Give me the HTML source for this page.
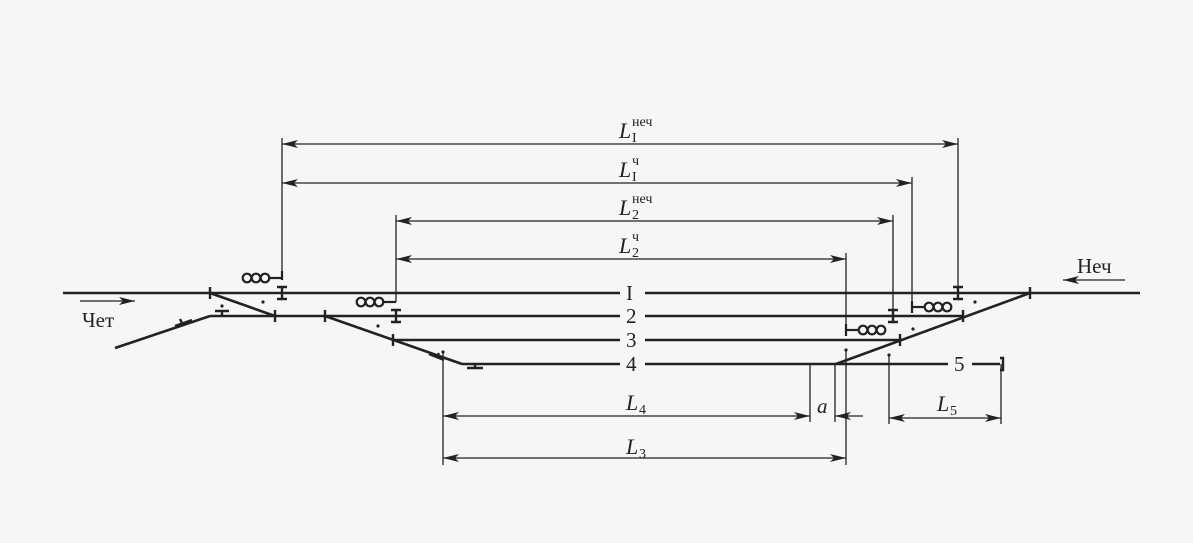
<!DOCTYPE html>
<html><head><meta charset="utf-8"><style>
html,body{margin:0;padding:0;background:#f6f6f6;}
svg{display:block;}
text{font-family:"Liberation Serif",serif;fill:#222;}
</style></head><body>
<svg width="1193" height="543" viewBox="0 0 1193 543" xmlns="http://www.w3.org/2000/svg">
<defs>
<marker id="ar" viewBox="0 0 16 8" refX="16" refY="4" markerWidth="16" markerHeight="8" markerUnits="userSpaceOnUse" orient="auto-start-reverse"><path d="M0,0 L16,4 L0,8 L4,4 Z" fill="#222"/></marker>
</defs>
<g stroke="#222" fill="none">
<g stroke-width="2.6">
<line x1="63" y1="293" x2="620" y2="293"/><line x1="645" y1="293" x2="1140" y2="293"/>
<line x1="210" y1="316" x2="620" y2="316"/><line x1="645" y1="316" x2="963" y2="316"/>
<line x1="393" y1="340" x2="620" y2="340"/><line x1="645" y1="340" x2="900" y2="340"/>
<line x1="462" y1="364" x2="620" y2="364"/><line x1="645" y1="364" x2="948" y2="364"/>
<line x1="972" y1="364" x2="1000" y2="364"/>
<line x1="210" y1="293" x2="275" y2="316"/>
<line x1="115" y1="348" x2="210" y2="316"/>
<line x1="325" y1="316" x2="462" y2="364"/>
<line x1="836" y1="364" x2="1030" y2="293"/>
</g>
<g stroke-width="2.4">
<line x1="210" y1="287" x2="210" y2="299"/>
<line x1="275" y1="310" x2="275" y2="322"/>
<line x1="325" y1="310" x2="325" y2="322"/>
<line x1="393" y1="334" x2="393" y2="346"/>
<line x1="1030" y1="287" x2="1030" y2="299"/>
<line x1="963" y1="310" x2="963" y2="322"/>
<line x1="900" y1="334" x2="900" y2="346"/>
<path d="M1000,358 h3 v12 h-3"/>
<path d="M277,287 h10 M282,287 v12 M277,299 h10"/>
<path d="M391,310 h10 M396,310 v12 M391,322 h10"/>
<path d="M888,310 h10 M893,310 v12 M888,322 h10"/>
<path d="M953,287 h10 M958,287 v12 M953,299 h10"/>
<path d="M215,311 h14 M222,311 v5"/>
<path d="M467,368 h16 M475,364 v4"/>
<path d="M175,326 l17,-6 M182,323 l-2,-4"/>
<path d="M429,354 l15,6 M437,357 l2,-4"/>
</g>
<g stroke-width="2.2">
<line x1="268" y1="278" x2="282" y2="278"/><line x1="282" y1="271" x2="282" y2="280"/>
<circle cx="247" cy="278" r="4.3"/><circle cx="256" cy="278" r="4.3"/><circle cx="265" cy="278" r="4.3"/>
<line x1="382" y1="302" x2="396" y2="302"/>
<circle cx="361" cy="302" r="4.3"/><circle cx="370" cy="302" r="4.3"/><circle cx="379" cy="302" r="4.3"/>
<line x1="912" y1="307" x2="925" y2="307"/><line x1="912" y1="301" x2="912" y2="313"/>
<circle cx="929" cy="307" r="4.3"/><circle cx="938" cy="307" r="4.3"/><circle cx="947" cy="307" r="4.3"/>
<line x1="846" y1="330" x2="859" y2="330"/><line x1="846" y1="324" x2="846" y2="336"/>
<circle cx="863" cy="330" r="4.3"/><circle cx="872" cy="330" r="4.3"/><circle cx="881" cy="330" r="4.3"/>
</g>
<g stroke-width="1.3">
<line x1="282" y1="138" x2="282" y2="278"/>
<line x1="958" y1="138" x2="958" y2="287"/>
<line x1="912" y1="177" x2="912" y2="307"/>
<line x1="396" y1="215" x2="396" y2="302"/>
<line x1="893" y1="215" x2="893" y2="310"/>
<line x1="846" y1="253" x2="846" y2="330"/>
<line x1="443" y1="352" x2="443" y2="465"/>
<line x1="810" y1="364" x2="810" y2="422"/>
<line x1="835" y1="364" x2="835" y2="422"/>
<line x1="846" y1="350" x2="846" y2="465"/>
<line x1="889" y1="355" x2="889" y2="424"/>
<line x1="1001" y1="364" x2="1001" y2="424"/>
<line x1="282" y1="144" x2="958" y2="144" marker-start="url(#ar)" marker-end="url(#ar)"/>
<line x1="282" y1="183" x2="912" y2="183" marker-start="url(#ar)" marker-end="url(#ar)"/>
<line x1="396" y1="221" x2="893" y2="221" marker-start="url(#ar)" marker-end="url(#ar)"/>
<line x1="396" y1="259" x2="846" y2="259" marker-start="url(#ar)" marker-end="url(#ar)"/>
<line x1="443" y1="416" x2="810" y2="416" marker-start="url(#ar)" marker-end="url(#ar)"/>
<line x1="863" y1="416" x2="835" y2="416" marker-end="url(#ar)"/>
<line x1="443" y1="458" x2="846" y2="458" marker-start="url(#ar)" marker-end="url(#ar)"/>
<line x1="889" y1="418" x2="1001" y2="418" marker-start="url(#ar)" marker-end="url(#ar)"/>
<line x1="80" y1="301" x2="135" y2="301" marker-end="url(#ar)"/>
<line x1="1125" y1="280" x2="1063" y2="280" marker-end="url(#ar)"/>
</g>
</g>
<g fill="#222">
<circle cx="263" cy="302" r="1.6"/><circle cx="222" cy="306" r="1.6"/><circle cx="378" cy="326" r="1.6"/>
<circle cx="443" cy="352" r="1.6"/><circle cx="846" cy="350" r="1.6"/><circle cx="889" cy="355" r="1.6"/>
<circle cx="913" cy="329" r="1.6"/><circle cx="975" cy="302" r="1.6"/>
</g>
<g font-size="21">
<text x="626" y="300">I</text>
<text x="626" y="323">2</text>
<text x="626" y="347">3</text>
<text x="626" y="371">4</text>
<text x="954" y="371">5</text>
<text x="82" y="327">Чет</text>
<text x="1077" y="273">Неч</text>
<text x="817" y="413" font-style="italic">a</text>
</g>
<g font-size="22" font-style="italic">
<text x="619" y="138">L</text><text x="619" y="177">L</text><text x="619" y="215">L</text><text x="619" y="253">L</text>
<text x="626" y="410">L</text><text x="626" y="454">L</text><text x="937" y="411">L</text>
</g>
<g font-size="14">
<text x="632" y="142">I</text><text x="632" y="181">I</text><text x="632" y="219">2</text><text x="632" y="257">2</text>
<text x="639" y="414">4</text><text x="639" y="458">3</text><text x="950" y="415">5</text>
<text x="632" y="126">неч</text><text x="632" y="165">ч</text><text x="632" y="203">неч</text><text x="632" y="241">ч</text>
</g>
</svg>
</body></html>
